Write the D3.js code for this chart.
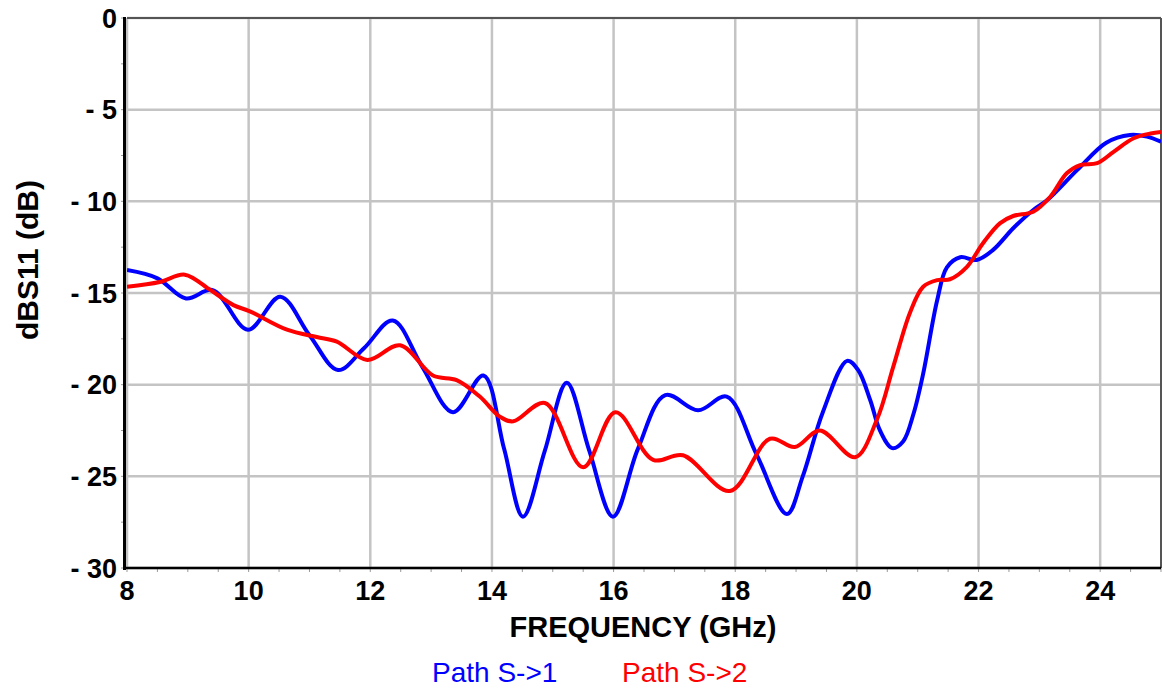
<!DOCTYPE html>
<html><head><meta charset="utf-8">
<script src="https://cdn.jsdelivr.net/npm/d3@7"></script>
<style>body{margin:0;background:#fff}svg{display:block}text{font-family:"Liberation Sans",Arial,sans-serif}</style>
</head><body><svg id="c" width="1162" height="688"></svg>
<script>
const xTicks = [8,10,12,14,16,18,20,22,24];
const yTicks = [0,-5,-10,-15,-20,-25,-30];
const yTickLabels = ["0","- 5","- 10","- 15","- 20","- 25","- 30"];
const s1Freq = [8.0,8.5,8.97,9.41,9.99,10.52,11.0,11.47,11.9,12.37,12.85,13.36,13.86,14.2,14.51,14.87,15.23,15.6,15.99,16.4,16.85,17.39,17.86,18.35,18.85,19.11,19.44,19.84,20.02,20.22,20.38,20.58,20.76,20.93,21.09,21.32,21.48,21.7,21.97,22.24,22.57,22.9,23.13,23.62,24.1,24.49,24.77,25.0];
const s1dB = [-13.75,-14.2,-15.3,-14.84,-17.0,-15.2,-17.3,-19.2,-18.0,-16.5,-19.0,-21.5,-19.5,-23.5,-27.2,-23.6,-19.9,-23.6,-27.2,-23.5,-20.57,-21.4,-20.65,-23.8,-27.06,-25.0,-21.5,-18.7,-19.2,-20.85,-22.5,-23.46,-23.1,-21.6,-19.4,-15.4,-13.6,-13.05,-13.2,-12.65,-11.47,-10.47,-9.93,-8.3,-6.8,-6.38,-6.47,-6.75];
const s2Freq = [8.0,8.54,8.95,9.37,9.75,10.02,10.63,11.12,11.45,11.95,12.49,13.03,13.42,13.8,14.13,14.35,14.87,15.5,16.03,16.65,17.14,17.91,18.57,18.98,19.39,19.97,20.33,20.6,20.87,21.09,21.32,21.53,21.81,22.07,22.35,22.57,22.9,23.18,23.45,23.67,23.95,24.22,24.55,24.83,25.0];
const s2dB = [-14.66,-14.4,-14.0,-14.84,-15.66,-16.0,-17.0,-17.4,-17.65,-18.65,-17.85,-19.5,-19.75,-20.65,-21.75,-22.0,-21.0,-24.5,-21.5,-24.1,-23.85,-25.8,-22.95,-23.4,-22.5,-23.96,-21.9,-19.0,-16.1,-14.66,-14.3,-14.25,-13.57,-12.3,-11.2,-10.8,-10.57,-9.75,-8.47,-8.02,-7.92,-7.3,-6.56,-6.3,-6.22];
const seriesNames = ["Path S->1","Path S->2"];
const seriesColors = ["#0000ff","#ff0000"];

const L=127,T=18,W=1034,H=550;
const svg=d3.select("#c");
const x=d3.scaleLinear().domain([8,25]).range([L,L+W]);
const y=d3.scaleLinear().domain([-30,0]).range([T+H,T]);

// grid
svg.append("g").selectAll("line").data(xTicks).join("line")
 .attr("x1",d=>x(d)).attr("x2",d=>x(d)).attr("y1",T).attr("y2",T+H)
 .attr("stroke","#c4c4c4").attr("stroke-width",2.5);
svg.append("g").selectAll("line").data(yTicks).join("line")
 .attr("x1",L).attr("x2",L+W).attr("y1",d=>y(d)).attr("y2",d=>y(d))
 .attr("stroke","#c4c4c4").attr("stroke-width",2.5);
// minor ticks
svg.append("g").selectAll("line").data(d3.range(8,25.01,0.5)).join("line")
 .attr("x1",d=>x(d)).attr("x2",d=>x(d)).attr("y1",T+H).attr("y2",T+H+4)
 .attr("stroke","#999").attr("stroke-width",1);
svg.append("g").selectAll("line").data(d3.range(-30,0.01,2.5)).join("line")
 .attr("x1",L-6).attr("x2",L-2).attr("y1",d=>y(d)).attr("y2",d=>y(d))
 .attr("stroke","#999").attr("stroke-width",1);
// borders
svg.append("line").attr("x1",L).attr("x2",L+W).attr("y1",T).attr("y2",T).attr("stroke","#555").attr("stroke-width",2);
svg.append("line").attr("x1",L+W).attr("x2",L+W).attr("y1",T).attr("y2",T+H).attr("stroke","#555").attr("stroke-width",2);
svg.append("line").attr("x1",L-3).attr("x2",L+W).attr("y1",T+H).attr("y2",T+H).attr("stroke","#000").attr("stroke-width",2.5);
svg.append("line").attr("x1",L-2.5).attr("x2",L-2.5).attr("y1",T-1).attr("y2",T+H+2).attr("stroke","#000").attr("stroke-width",3);

// tick labels
svg.append("g").selectAll("text").data(xTicks).join("text")
 .attr("x",d=>x(d)).attr("y",600).attr("text-anchor","middle")
 .attr("font-size",27).attr("font-weight","bold").text(d=>d);
svg.append("g").selectAll("text").data(yTicks).join("text")
 .attr("x",117).attr("y",d=>y(d)).attr("dy","0.36em").attr("text-anchor","end")
 .attr("font-size",27).attr("font-weight","bold").text((d,i)=>yTickLabels[i]);
// titles
svg.append("text").attr("x",643).attr("y",637).attr("text-anchor","middle")
 .attr("font-size",29).attr("font-weight","bold").text("FREQUENCY (GHz)");
svg.append("text").attr("transform","translate(38,260) rotate(-90)").attr("text-anchor","middle")
 .attr("font-size",30).attr("font-weight","bold").text("dBS11 (dB)");
// legend
svg.append("text").attr("x",432).attr("y",682).attr("font-size",28).attr("fill",seriesColors[0]).text(seriesNames[0]);
svg.append("text").attr("x",622).attr("y",682).attr("font-size",28).attr("fill",seriesColors[1]).text(seriesNames[1]);

const line=d3.line().x(d=>x(d[0])).y(d=>y(d[1])).curve(d3.curveCatmullRom.alpha(0.5));
const data=[s1Freq.map((f,i)=>[f,s1dB[i]]), s2Freq.map((f,i)=>[f,s2dB[i]])];
svg.append("defs").append("clipPath").attr("id","cp").append("rect").attr("x",L).attr("y",T-5).attr("width",W).attr("height",H+10);
data.forEach((d,i)=>{
 svg.append("path").attr("d",line(d)).attr("fill","none").attr("stroke",seriesColors[i])
  .attr("stroke-width",4).attr("stroke-linejoin","round").attr("clip-path","url(#cp)");
});
</script></body></html>
